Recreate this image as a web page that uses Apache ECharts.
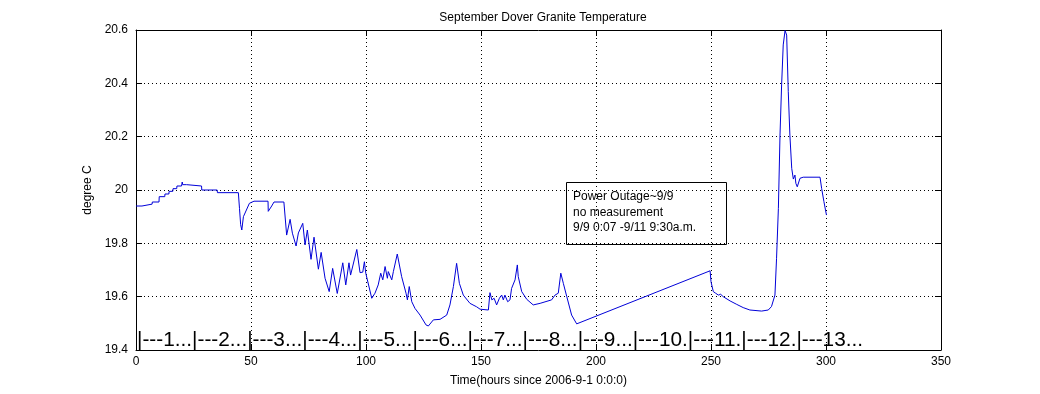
<!DOCTYPE html>
<html>
<head>
<meta charset="utf-8">
<script src="https://cdn.jsdelivr.net/npm/echarts@6/dist/echarts.min.js"></script>
<style>html,body{margin:0;padding:0;background:#fff}#c{width:1040px;height:394px}</style>
</head>
<body>
<div id="c"></div>
<script>
var chartTitle = 'September Dover Granite Temperature';
var xName = 'Time(hours since 2006-9-1 0:0:0)';
var yName = 'degree C';
var dayLabel = '|---1...|---2...|---3...|---4...|---5...|---6...|---7...|---8...|---9...|---10.|---11.|---12.|---13...';
var noteLines = ['Power Outage~9/9', 'no measurement', '9/9 0:07 -9/11 9:30a.m.'];

var hours = [0,2.6,2.7,7.0,7.1,10.0,10.1,12.5,12.6,14.3,14.4,16.0,16.1,17.7,17.8,19.8,19.9,20.1,20.3,22.0,22.1,28.5,28.6,35.3,35.4,44.5,45.0,45.5,46.0,46.7,48.0,49.3,51.3,57.4,57.5,59.0,60.0,64.3,
 65.5,67.0,68.0,69.6,70.6,72.5,73.5,74.5,76.1,77.4,79.3,80.5,82.2,84.0,85.5,87.5,89.9,91.2,92.6,93.3,96.0,97.4,98.6,99.3,99.9,102.5,103.9,105.3,106.4,107.3,108.3,109.3,109.7,111.2,111.9,113.6,115.5,117.4,118.0,118.8,119.9,121.3,123.5,126.1,127.1,129.3,132.2,135.1,136.5,138.0,139.4,140.6,
 142.3,145.2,148.1,149.6,153.2,153.9,154.7,155.7,156.8,158.0,159.0,159.7,160.4,161.6,162.6,163.3,164.8,165.8,166.2,167.7,169.9,172.7,175.7,180.7,182.2,183.6,184.7,185.8,187.3,189.4,191.6,249.6,
 250.0,251.0,252.0,253.2,254.2,255.3,258.3,261.2,264.0,266.9,272.0,274.9,276.3,277.8,278.5,279.3,280.0,280.7,281.4,282.2,282.9,283.6,284.3,285.1,285.8,286.5,286.9,287.5,288.7,290.1,297.4,298.1,299.1,300.2];
var temps = [19.94,19.94,19.947,19.947,19.955,19.955,19.975,19.975,19.985,19.985,19.995,19.995,20.005,20.005,20.015,20.015,20.02,20.03,20.02,20.02,20.015,20.015,20.0,20.0,19.99,19.99,19.93,19.87,19.85,19.9,19.925,19.95,19.958,19.958,19.92,19.94,19.955,19.955,
 19.831,19.89,19.838,19.79,19.839,19.875,19.794,19.85,19.74,19.823,19.703,19.766,19.669,19.619,19.706,19.612,19.727,19.644,19.727,19.681,19.777,19.69,19.692,19.731,19.688,19.594,19.613,19.644,19.688,19.663,19.713,19.669,19.694,19.663,19.694,19.76,19.675,19.613,19.588,19.638,19.581,19.556,19.531,19.494,19.49,19.513,19.515,19.531,19.569,19.638,19.725,19.65,
 19.606,19.575,19.562,19.553,19.55,19.615,19.588,19.594,19.569,19.594,19.606,19.588,19.606,19.581,19.588,19.631,19.663,19.719,19.675,19.619,19.59,19.569,19.575,19.588,19.606,19.613,19.688,19.65,19.6,19.531,19.498,19.697,
 19.656,19.619,19.613,19.606,19.609,19.6,19.584,19.571,19.559,19.55,19.546,19.55,19.563,19.606,19.744,19.931,20.206,20.394,20.544,20.598,20.581,20.369,20.206,20.081,20.041,20.056,20.025,20.012,20.044,20.048,20.048,20.006,19.956,19.906];

var xTicks = {min: 0, max: 350, interval: 50};
var yTicks = {min: 19.4, max: 20.6, interval: 0.2};

var pts = hours.map(function (h, i) { return [h, temps[i]]; });
var FONT = 'Liberation Sans, Arial, sans-serif';

var chart = echarts.init(document.getElementById('c'), null, {renderer: 'canvas'});
var axisCommon = {
  axisLine: {show: true, onZero: false, lineStyle: {color: '#000', width: 1}},
  axisTick: {show: true, inside: true, length: 6, lineStyle: {color: '#000'}}
};
chart.setOption({
  animation: false,
  backgroundColor: '#fff',
  title: {text: chartTitle, left: 538, top: 7, textAlign: 'center',
    textStyle: {fontSize: 12, fontWeight: 'normal', color: '#000', fontFamily: FONT}},
  grid: {left: 136, right: 99, top: 30, bottom: 44, containLabel: false},
  xAxis: [
    Object.assign({type: 'value', min: xTicks.min, max: xTicks.max, interval: xTicks.interval, position: 'bottom',
      name: xName, nameLocation: 'middle', nameGap: 25,
      nameTextStyle: {fontSize: 12, color: '#000', fontFamily: FONT},
      axisLabel: {color: '#000', fontSize: 12, margin: 6, fontFamily: FONT},
      splitLine: {show: true, lineStyle: {color: '#000', type: [1, 3], width: 1}}}, axisCommon),
    Object.assign({type: 'value', min: xTicks.min, max: xTicks.max, interval: xTicks.interval, position: 'top',
      axisLabel: {show: false}, splitLine: {show: false}}, axisCommon)
  ],
  yAxis: [
    Object.assign({type: 'value', min: yTicks.min, max: yTicks.max, interval: yTicks.interval, position: 'left',
      name: yName, nameLocation: 'middle', nameGap: 37, nameRotate: 90,
      nameTextStyle: {fontSize: 12, color: '#000', fontFamily: FONT},
      axisLabel: {color: '#000', fontSize: 12, margin: 8, fontFamily: FONT},
      splitLine: {show: true, lineStyle: {color: '#000', type: [1, 3], width: 1}}}, axisCommon),
    Object.assign({type: 'value', min: yTicks.min, max: yTicks.max, interval: yTicks.interval, position: 'right',
      axisLabel: {show: false}, splitLine: {show: false}}, axisCommon)
  ],
  series: [{
    type: 'line', data: pts, showSymbol: false, symbol: 'none',
    lineStyle: {color: '#0000d8', width: 1}, clip: true
  }],
  graphic: [
    {type: 'text', left: 137, top: 330, style: {text: dayLabel, fontSize: 20.8, fill: '#000', fontFamily: FONT}},
    {type: 'rect', shape: {x: 566.5, y: 182.5, width: 160, height: 62}, style: {fill: 'none', stroke: '#000', lineWidth: 1}},
    {type: 'text', left: 573, top: 189, style: {text: noteLines.join('\n'), fontSize: 12, lineHeight: 15.5, fill: '#000', fontFamily: FONT}}
  ]
});
</script>
</body>
</html>
